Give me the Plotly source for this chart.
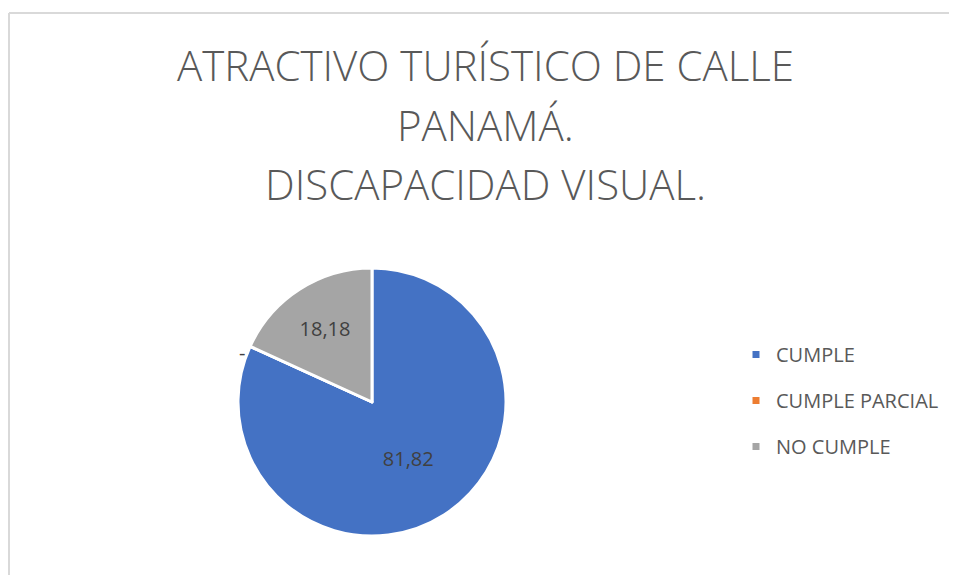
import plotly.graph_objects as go

categories = ["CUMPLE", "CUMPLE PARCIAL", "NO CUMPLE"]
values = [81.82, 0.0, 18.18]
colors = ["#4472C4", "#ED7D31", "#A5A5A5"]
title_lines = ["ATRACTIVO TURÍSTICO DE CALLE", "PANAMÁ.", "DISCAPACIDAD VISUAL."]

OFF = 8  # page body margin offset
W, H = 957 - 2 * OFF, 583 - 2 * OFF
FONT = "Open Sans, Lato, sans-serif"


def px_x(x):
    return (x - OFF) / W


def px_y(y):
    return 1 - (y - OFF) / H


texts = [("-" if v == 0 else f"{v:.2f}".replace(".", ",")) for v in values]

fig = go.Figure()
fig.add_trace(go.Pie(
    labels=categories,
    values=values,
    sort=False,
    direction="clockwise",
    rotation=0,
    marker=dict(colors=colors, line=dict(color="white", width=3)),
    text=texts,
    textinfo="text",
    textposition="inside",
    insidetextorientation="horizontal",
    textfont=dict(family=FONT, size=20, color="#404040"),
    showlegend=False,
    hoverinfo="label+value",
    domain=dict(x=[px_x(238), px_x(506)], y=[px_y(536), px_y(268)]),
))

# legend entries (one per category, same colours)
for c, col in zip(categories, colors):
    fig.add_trace(go.Scatter(
        x=[None], y=[None], mode="markers", name=c,
        marker=dict(symbol="square", size=7, color=col),
        legendgroup=c, showlegend=True, hoverinfo="skip",
    ))

# label for the zero-value slice
zero_idx = values.index(0.0)
annotations = [dict(
    x=px_x(237), y=px_y(352), xref="paper", yref="paper",
    text=texts[zero_idx], showarrow=False,
    font=dict(family=FONT, size=20, color="#404040"),
)]

# title lines
title_y = [62, 122, 181]
for line, ty in zip(title_lines, title_y):
    annotations.append(dict(
        x=px_x(485), y=px_y(ty + 2), xref="paper", yref="paper",
        xanchor="center", yanchor="middle",
        text=line, showarrow=False,
        font=dict(family=FONT, size=42, color="#595959", weight=300),
    ))

border = dict(color="#D9D9D9", width=2)

fig.update_layout(
    width=W, height=H,
    margin=dict(l=0, r=0, t=0, b=0),
    paper_bgcolor="white",
    plot_bgcolor="white",
    xaxis=dict(visible=False),
    yaxis=dict(visible=False),
    annotations=annotations,
    legend=dict(
        x=px_x(736), xanchor="left",
        y=px_y(335), yanchor="top",
        font=dict(family=FONT, size=20, color="#595959"),
        tracegroupgap=17,
        bgcolor="rgba(0,0,0,0)",
    ),
    shapes=[
        dict(type="line", xref="paper", yref="paper",
             x0=px_x(9), x1=1.0, y0=px_y(13), y1=px_y(13), line=border),
        dict(type="line", xref="paper", yref="paper",
             x0=px_x(9), x1=px_x(9), y0=px_y(13), y1=0.0, line=border),
    ],
)

fig.write_html("out.html")
